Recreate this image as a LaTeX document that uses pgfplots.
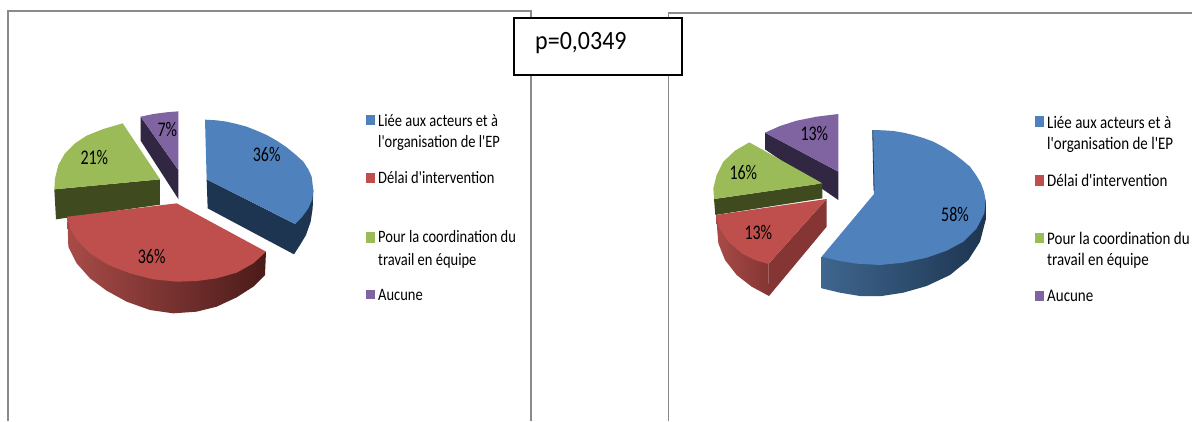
\documentclass[border=0pt]{standalone}
\usepackage{graphicx}
\usepackage{fontspec}
\newfontfamily\cf{Carlito}
\usepackage{pgfplots}
\pgfplotsset{compat=1.18}
\definecolor{cb}{HTML}{4F81BD}\definecolor{cbd}{HTML}{1D3550}\definecolor{cbm}{HTML}{3F668F}
\definecolor{cr}{HTML}{BE4F4C}\definecolor{crd}{HTML}{4A1B19}\definecolor{crm}{HTML}{A84B48}\definecolor{crs}{HTML}{843534}
\definecolor{cg}{HTML}{9BBB59}\definecolor{cgd}{HTML}{3F4A1F}
\definecolor{cp}{HTML}{8064A2}\definecolor{cpd}{HTML}{312743}
\definecolor{fr}{HTML}{8A8A8A}
\newcommand\lgt[1]{\scalebox{1}[1.2]{\cf\fontsize{14.5}{14.5}\selectfont #1}}
\newcommand\lgr[1]{\scalebox{1}[1.18]{\cf\fontsize{15}{15}\selectfont #1}}
\newcommand\pc[1]{\scalebox{1}[1.3]{\cf\fontsize{16}{16}\selectfont #1}}
\tikzset{lb/.style={anchor=west,inner sep=0pt,text=black}}
\pgfplotsset{base/.style={hide axis,scale only axis,clip=true,y dir=reverse},
 f/.style={draw=none,fill=#1,no markers,forget plot,line width=0pt},
 s/.style 2 args={draw=none,left color=#1,right color=#2,no markers,forget plot,line width=0pt},
 fl/.style={color=fr,line width=1.5pt,no markers,forget plot}}
\begin{document}
\begin{tikzpicture}
% page, frames, legends
\begin{axis}[base,width=1192pt,height=421pt,xmin=0,xmax=1192,ymin=0,ymax=421]
\addplot[f=white] coordinates {(0,0)(1192,0)(1192,421)(0,421)} -- cycle;
\addplot[fl] coordinates {(8,421)(8,11)(531,11)(531,421)};
\addplot[fl] coordinates {(668.5,421)(668.5,13)(1192,13)};
\addplot[fill=white,draw=black,line width=2pt,no markers,forget plot] coordinates {(514,17.5)(682,17.5)(682,74.5)(514,74.5)} -- cycle;
\node[lb] at (axis cs:535,43) {\scalebox{1}[1.1]{\cf\fontsize{24}{24}\selectfont p=0,0349}};
% left legend
\addplot[f=cb] coordinates {(366,115)(374.5,115)(374.5,125)(366,125)} -- cycle;
\addplot[f=cr] coordinates {(366,173)(374.5,173)(374.5,183)(366,183)} -- cycle;
\addplot[f=cg] coordinates {(366,232)(374.5,232)(374.5,243)(366,243)} -- cycle;
\addplot[f=cp] coordinates {(366,290)(374.5,290)(374.5,299)(366,299)} -- cycle;
\node[lb] at (axis cs:378,120.5) {\lgt{Liée aux acteurs et à}};
\node[lb] at (axis cs:378,143) {\lgt{l'organisation de l'EP}};
\node[lb] at (axis cs:378,178) {\lgt{Délai d'intervention}};
\node[lb] at (axis cs:378,237) {\lgt{Pour la coordination du}};
\node[lb] at (axis cs:378,260.5) {\lgt{travail en équipe}};
\node[lb] at (axis cs:378,295) {\lgt{Aucune}};
% right legend
\addplot[f=cb] coordinates {(1035,116)(1044,116)(1044,127)(1035,127)} -- cycle;
\addplot[f=cr] coordinates {(1035,175)(1044,175)(1044,186)(1035,186)} -- cycle;
\addplot[f=cg] coordinates {(1035,233)(1044,233)(1044,243)(1035,243)} -- cycle;
\addplot[f=cp] coordinates {(1035,291)(1044,291)(1044,301)(1035,301)} -- cycle;
\node[lb] at (axis cs:1047,122) {\lgr{Liée aux acteurs et à}};
\node[lb] at (axis cs:1047,145) {\lgr{l'organisation de l'EP}};
\node[lb] at (axis cs:1047,180) {\lgr{Délai d'intervention}};
\node[lb] at (axis cs:1047,238) {\lgr{Pour la coordination du}};
\node[lb] at (axis cs:1047,261) {\lgr{travail en équipe}};
\node[lb] at (axis cs:1047,296) {\lgr{Aucune}};
\end{axis}
% left pie
\begin{axis}[base,at={(40pt,96pt)},anchor=south west,width=290pt,height=225pt,xmin=0,xmax=870,ymin=0,ymax=675]
% purple
\addplot[f=cpd] coordinates {(302,50)(415,210)(415,297)(302,122)} -- cycle;
\addplot[f=cp] coordinates {(302,50)(340,42)(378,37)(415,34)(415,210)} -- cycle;
% green
\addplot[f=cgd] coordinates {(43,268)(360,238)(360,314)(48,358)} -- cycle;
\addplot[f=cg] coordinates {(43,268)(45,235)(55,195)(75,160)(105,130)(140,107)(190,87)(248,70)(360,238)} -- cycle;
% red
\addplot[s={crm}{crd}] coordinates {(82,350)(85,440)(110,490)(150,535)(200,572)(260,605)(330,630)(400,640)(470,635)(530,620)(590,592)(640,560)(675,525)(678,455)} -- cycle;
\addplot[f=cr] coordinates {(82,350)(410,310)(678,455)(640,490)(590,518)(530,535)(470,543)(410,545)(340,538)(270,520)(205,495)(150,460)(110,420)(90,385)} -- cycle;
% blue
\addplot[f=cbd] coordinates {(500,238)(503,325)(762,463)(780,435)(798,405)(812,365)(818,325)(820,270)(765,372)} -- cycle;
\addplot[f=cb] coordinates {(495,59)(530,61)(560,65)(590,72)(620,80)(650,92)(680,105)(710,122)(740,142)(768,165)(790,185)(805,208)(815,230)(820,270)(817,298)(805,325)(787,350)(765,372)(500,238)} -- cycle;
\node[text=black,inner sep=0pt] at (axis cs:680,163) {\pc{36\%}};
\node[text=black,inner sep=0pt] at (axis cs:335,470) {\pc{36\%}};
\node[text=black,inner sep=0pt] at (axis cs:163,172) {\pc{21\%}};
\node[text=black,inner sep=0pt] at (axis cs:382,88) {\pc{7\%}};
\end{axis}
% right pie
\begin{axis}[base,at={(700pt,116pt)},anchor=south west,width=300pt,height=205pt,xmin=0,xmax=900,ymin=0,ymax=615]
% purple
\addplot[f=cpd] coordinates {(195,98)(415,215)(415,300)(195,148)} -- cycle;
\addplot[f=cp] coordinates {(195,98)(240,78)(290,62)(350,50)(415,42)(415,215)} -- cycle;
% green
\addplot[f=cgd] coordinates {(42,297)(367,250)(367,295)(46,345)} -- cycle;
\addplot[f=cg] coordinates {(148,127)(105,152)(70,185)(50,225)(40,265)(42,297)(367,250)} -- cycle;
% red
\addplot[s={crm}{crs}] coordinates {(48,345)(55,430)(75,480)(110,525)(155,560)(207,588)(205,492)} -- cycle;
\addplot[f=crs] coordinates {(380,297)(380,380)(207,588)(205,492)} -- cycle;
\addplot[f=cr] coordinates {(48,345)(380,297)(205,492)(165,480)(125,460)(85,425)(58,385)} -- cycle;
% blue
\addplot[s={cbm}{cbd}] coordinates {(365,470)(365,565)(420,578)(480,588)(545,588)(610,578)(680,558)(750,525)(805,480)(840,425)(857,360)(857,300)} -- cycle;
\addplot[f=cb] coordinates {(518,90)(550,91)(580,93)(610,98)(640,105)(670,114)(700,125)(730,141)(760,160)(785,179)(810,200)(828,225)(843,250)(852,275)(857,300)(853,340)(830,385)(790,425)(740,452)(680,473)(610,488)(540,495)(470,491)(415,482)(365,470)(522,282)} -- cycle;
\addplot[color=cbd,line width=0.8pt,no markers,forget plot] coordinates {(518,90)(522,272)};
\node[text=black,inner sep=0pt] at (axis cs:765,343) {\pc{58\%}};
\node[text=black,inner sep=0pt] at (axis cs:175,398) {\pc{13\%}};
\node[text=black,inner sep=0pt] at (axis cs:130,218) {\pc{16\%}};
\node[text=black,inner sep=0pt] at (axis cs:343,100) {\pc{13\%}};
\end{axis}
\end{tikzpicture}
\end{document}
